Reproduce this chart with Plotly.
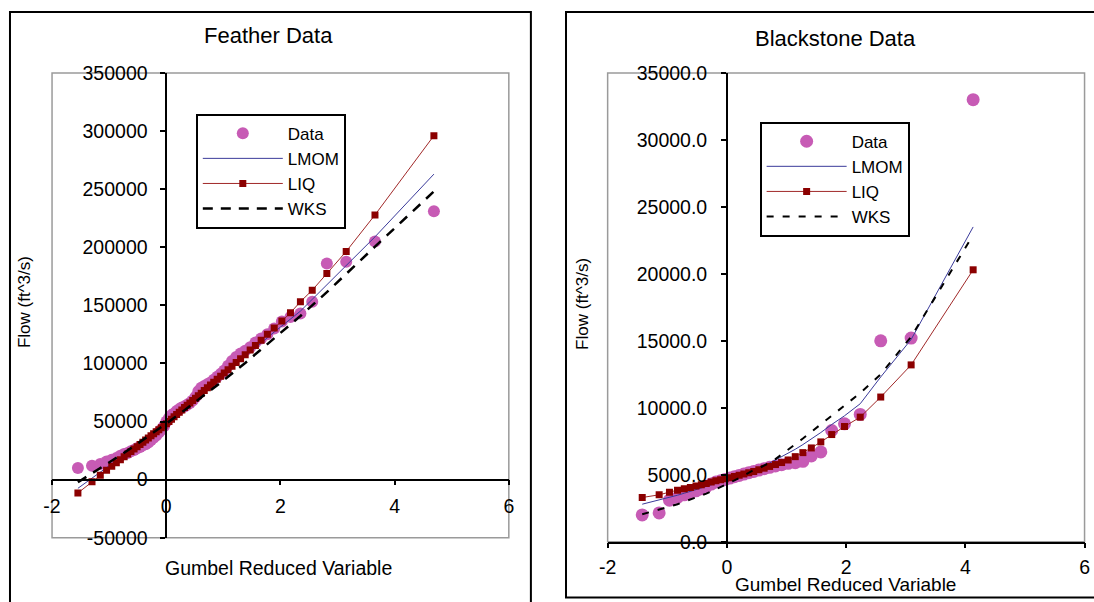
import plotly.graph_objects as go

W, H = 1094, 602

# ---------------- Feather data ----------------
feather_x = [-1.547, -1.300, -1.155, -1.045, -0.954, -0.874, -0.803, -0.737, -0.676, -0.618,
             -0.563, -0.510, -0.459, -0.409, -0.361, -0.314, -0.267, -0.221, -0.176, -0.130,
             -0.086, -0.041, 0.003, 0.048, 0.092, 0.137, 0.182, 0.228, 0.273, 0.320,
             0.367, 0.414, 0.463, 0.512, 0.562, 0.613, 0.666, 0.720, 0.775, 0.832,
             0.892, 0.953, 1.016, 1.083, 1.152, 1.225, 1.302, 1.383, 1.470, 1.562,
             1.662, 1.771, 1.891, 2.025, 2.176, 2.350, 2.557, 2.813, 3.152, 3.656, 4.688]
feather_data = [10000, 12000, 13500, 15500, 17000, 18500, 20500, 22000, 23000, 24500,
                25500, 27000, 28000, 29500, 30500, 32000, 34000, 36000, 38000, 40500,
                43000, 46000, 50000, 53000, 55500, 57000, 59000, 60500, 62000, 63000,
                64500, 66000, 68000, 71000, 76000, 79000, 80500, 82000, 83500, 86000,
                88500, 91000, 94000, 98000, 102000, 105500, 108500, 111000, 114000, 118000,
                121500, 125000, 130000, 136000, 140000, 143000, 153000, 186000, 187500, 205000, 231000]
feather_liq = [-11500, -1800, 3800, 8000, 11500, 14500, 17200, 19700, 22000, 24200,
               26300, 28300, 30300, 32200, 34100, 35900, 37700, 39500, 41200, 43000,
               44700, 46400, 48000, 50000, 52000, 54000, 56000, 58000, 60000, 62000,
               64000, 66000, 68000, 70000, 72200, 74400, 76700, 79000, 81400, 83800,
               86400, 89000, 91700, 94600, 97600, 100800, 104000, 107500, 111500, 115500,
               120000, 125000, 130400, 136400, 143600, 153100, 163000, 177300, 196400, 227800, 296000]
feather_fit_x = [-1.547, -1.155, -0.803, -0.510, -0.221, 0.048, 0.320, 0.613, 0.953, 1.383,
                 1.891, 2.350, 2.813, 3.152, 3.656, 4.688]
feather_lmom = [-7500, 6200, 18800, 29300, 39800, 49800, 61000, 73000, 87500, 106000,
                127000, 145000, 167600, 183900, 208900, 262900]
feather_wks = [-2300, 9700, 21000, 30700, 40500, 49900, 59700, 70500, 83500, 100400,
               121200, 140800, 161300, 176800, 200500, 248000]

# ---------------- Blackstone data ----------------
black_x = [-1.420, -1.136, -0.963, -0.828, -0.714, -0.612, -0.518, -0.429, -0.345, -0.263,
           -0.184, -0.105, -0.028, 0.050, 0.127, 0.206, 0.285, 0.367, 0.450, 0.536,
           0.625, 0.717, 0.815, 0.918, 1.028, 1.147, 1.275, 1.417, 1.576, 1.759,
           1.973, 2.237, 2.581, 3.091, 4.131]
black_data = [2000, 2150, 3100, 3300, 3500, 3650, 3800, 3950, 4100, 4300,
              4450, 4550, 4650, 4750, 4850, 4950, 5050, 5150, 5250, 5350,
              5450, 5550, 5650, 5750, 5850, 5900, 6000, 6400, 6700, 8300,
              8800, 9500, 15000, 15200, 33000]
black_liq = [3300, 3500, 3700, 3850, 3950, 4050, 4150, 4250, 4350, 4450,
             4550, 4620, 4700, 4780, 4870, 4960, 5050, 5150, 5250, 5370,
             5490, 5620, 5760, 5910, 6100, 6350, 6650, 7000, 7450, 8000,
             8600, 9300, 10800, 13200, 20300]
black_lmom = [2800, 3100, 3310, 3470, 3620, 3750, 3870, 3990, 4110, 4230,
              4350, 4460, 4580, 4700, 4820, 4950, 5080, 5220, 5360, 5520,
              5680, 5880, 6100, 6330, 6600, 6900, 7250, 7650, 8150, 8750,
              9400, 10300, 12300, 15100, 23500]
black_wks = [2050, 2380, 2620, 2800, 2980, 3130, 3280, 3430, 3590, 3750,
             3910, 4060, 4230, 4400, 4580, 4760, 4950, 5150, 5350, 5480,
             5680, 5900, 6170, 6500, 6850, 7250, 7700, 8200, 8750, 9400,
             10150, 11100, 12500, 15300, 22900]

# ---------------- ticks ----------------
x_tick_vals = [-2, 0, 2, 4, 6]
x_tick_text = ["-2", "0", "2", "4", "6"]
feather_y_tick_vals = [-50000, 0, 50000, 100000, 150000, 200000, 250000, 300000, 350000]
feather_y_tick_text = ["-50000", "0", "50000", "100000", "150000", "200000", "250000", "300000", "350000"]
black_y_tick_vals = [0, 5000, 10000, 15000, 20000, 25000, 30000, 35000]
black_y_tick_text = ["0.0", "5000.0", "10000.0", "15000.0", "20000.0", "25000.0", "30000.0", "35000.0"]

FONT = "Liberation Sans, Arial, sans-serif"
DATA_C = "#C75BB5"
LMOM_C = "#3A3A9A"
LIQ_C = "#8B0000"
LIQ_LINE = "#A02828"

# the photographed picture is slightly inset/scaled relative to the page;
# these map a wanted picture pixel to a paper fraction
OX, SX = 8.8, 0.984
OY, SY = 9.8, 0.968


def fx(px):
    return min(max(((px - OX) / SX) / W, 0.0), 1.0)


def fy(py):
    return min(max(1 - ((py - OY) / SY) / H, 0.0), 1.0)


def fy_free(py):
    return 1 - ((py - OY) / SY) / H


fig = go.Figure()

# Feather traces
fig.add_trace(go.Scatter(x=feather_x, y=feather_data, mode="markers", name="Data",
                         marker=dict(color=DATA_C, size=12, symbol="circle"),
                         xaxis="x", yaxis="y", legend="legend"))
fig.add_trace(go.Scatter(x=feather_fit_x, y=feather_lmom, mode="lines", name="LMOM",
                         line=dict(color=LMOM_C, width=1),
                         xaxis="x", yaxis="y", legend="legend"))
fig.add_trace(go.Scatter(x=feather_x, y=feather_liq, mode="lines+markers", name="LIQ",
                         line=dict(color=LIQ_LINE, width=1),
                         marker=dict(color=LIQ_C, size=7, symbol="square"),
                         xaxis="x", yaxis="y", legend="legend"))
fig.add_trace(go.Scatter(x=feather_fit_x, y=feather_wks, mode="lines", name="WKS",
                         line=dict(color="black", width=2.5, dash="10px,8px"),
                         xaxis="x", yaxis="y", legend="legend"))

# Blackstone traces
fig.add_trace(go.Scatter(x=black_x, y=black_data, mode="markers", name="Data",
                         marker=dict(color=DATA_C, size=13, symbol="circle"),
                         xaxis="x2", yaxis="y2", legend="legend2"))
fig.add_trace(go.Scatter(x=black_x, y=black_lmom, mode="lines", name="LMOM",
                         line=dict(color=LMOM_C, width=1),
                         xaxis="x2", yaxis="y2", legend="legend2"))
fig.add_trace(go.Scatter(x=black_x, y=black_liq, mode="lines+markers", name="LIQ",
                         line=dict(color=LIQ_LINE, width=1),
                         marker=dict(color=LIQ_C, size=7, symbol="square"),
                         xaxis="x2", yaxis="y2", legend="legend2"))
fig.add_trace(go.Scatter(x=black_x, y=black_wks, mode="lines", name="WKS",
                         line=dict(color="black", width=2, dash="7px,9px"),
                         xaxis="x2", yaxis="y2", legend="legend2"))

# domains (paper fractions)
fx_dom = [fx(51.7), fx(507)]
fy_dom = [fy(539), fy(72)]
bx_dom = [fx(605.5), 1089.5 / W]
by_dom = [fy(543), fy(72)]
f_xr = [-2, 6]
f_yr = [-50000, 350000]
b_xr = [-2, 6]
b_yr = [0, 35000]

# axis crossings at zero
f_x_pos = fy_dom[0] + (0 - f_yr[0]) / (f_yr[1] - f_yr[0]) * (fy_dom[1] - fy_dom[0])
f_y_pos = fx_dom[0] + (0 - f_xr[0]) / (f_xr[1] - f_xr[0]) * (fx_dom[1] - fx_dom[0])
b_y_pos = bx_dom[0] + (0 - b_xr[0]) / (b_xr[1] - b_xr[0]) * (bx_dom[1] - bx_dom[0])

axis_common = dict(showgrid=False, zeroline=False, showline=True, linecolor="black",
                   linewidth=1.5, ticks="outside", ticklen=5, tickwidth=1.5,
                   tickcolor="black", tickfont=dict(family=FONT, size=19.5, color="black"),
                   tickmode="array", fixedrange=True, ticklabeloverflow="allow")

legend_common = dict(xanchor="left", yanchor="top", bordercolor="black", borderwidth=2,
                     bgcolor="white", font=dict(family=FONT, size=17, color="black"),
                     itemwidth=80, tracegroupgap=0)

fig.update_layout(
    width=W, height=H,
    margin=dict(l=0, r=0, t=0, b=0),
    paper_bgcolor="white", plot_bgcolor="white",
    font=dict(family=FONT, color="black"),
    xaxis=dict(domain=fx_dom, range=f_xr, anchor="free", position=f_x_pos,
               tickvals=x_tick_vals, ticktext=x_tick_text, ticklabelstandoff=4, **axis_common),
    yaxis=dict(domain=fy_dom, range=f_yr, anchor="free", position=f_y_pos,
               tickvals=feather_y_tick_vals, ticktext=feather_y_tick_text,
               ticklabelstandoff=9, **axis_common),
    xaxis2=dict(domain=bx_dom, range=b_xr, anchor="y2",
                tickvals=x_tick_vals, ticktext=x_tick_text, ticklabelstandoff=2, **axis_common),
    yaxis2=dict(domain=by_dom, range=b_yr, anchor="free", position=b_y_pos,
                tickvals=black_y_tick_vals, ticktext=black_y_tick_text,
                ticklabelstandoff=10, **axis_common),
    showlegend=True,
    legend=dict(x=fx(195), y=fy(113), **legend_common),
    legend2=dict(x=fx(757), y=fy(121), **legend_common),
)

shapes = [
    # outer panel borders
    dict(type="rect", xref="paper", yref="paper", x0=max(fx(7.6), 1.0 / W), x1=fx(529),
         y0=fy_free(640), y1=min(fy(3.3), 1 - 1.0 / H),
         line=dict(color="black", width=2), layer="below"),
    dict(type="rect", xref="paper", yref="paper", x0=fx(564), x1=1.02,
         y0=fy_free(599), y1=min(fy(5), 1 - 1.0 / H),
         line=dict(color="black", width=2), layer="below"),
    # plot-area boxes
    dict(type="rect", xref="x domain", yref="y domain", x0=0, x1=1, y0=0, y1=1,
         line=dict(color="#9a9a9a", width=1.5), layer="below"),
    dict(type="rect", xref="x2 domain", yref="y2 domain", x0=0, x1=1, y0=0, y1=1,
         line=dict(color="#9a9a9a", width=1.5), layer="below"),
]
fig.update_layout(shapes=shapes)

ann_common = dict(xref="paper", yref="paper", showarrow=False, xanchor="center", yanchor="middle")
annotations = [
    dict(text="Feather Data", x=fx(267), y=fy(34),
         font=dict(family=FONT, size=22, color="black"), **ann_common),
    dict(text="Blackstone Data", x=fx(833), y=fy(37),
         font=dict(family=FONT, size=22, color="black"), **ann_common),
    dict(text="Gumbel Reduced Variable", x=fx(277), y=fy(569),
         font=dict(family=FONT, size=19.5, color="black"), **ann_common),
    dict(text="Gumbel Reduced Variable", x=fx(843), y=fy(586),
         font=dict(family=FONT, size=19, color="black"), **ann_common),
    dict(text="Flow (ft^3/s)", x=fx(25), y=fy(302), textangle=-90,
         font=dict(family=FONT, size=17, color="black"), **ann_common),
    dict(text="Flow (ft^3/s)", x=fx(581), y=fy(304), textangle=-90,
         font=dict(family=FONT, size=17, color="black"), **ann_common),
]
fig.update_layout(annotations=annotations)

fig.write_html("out.html", config={"displayModeBar": False},
               post_script="document.body.style.margin='0';document.body.style.overflow='hidden';")
